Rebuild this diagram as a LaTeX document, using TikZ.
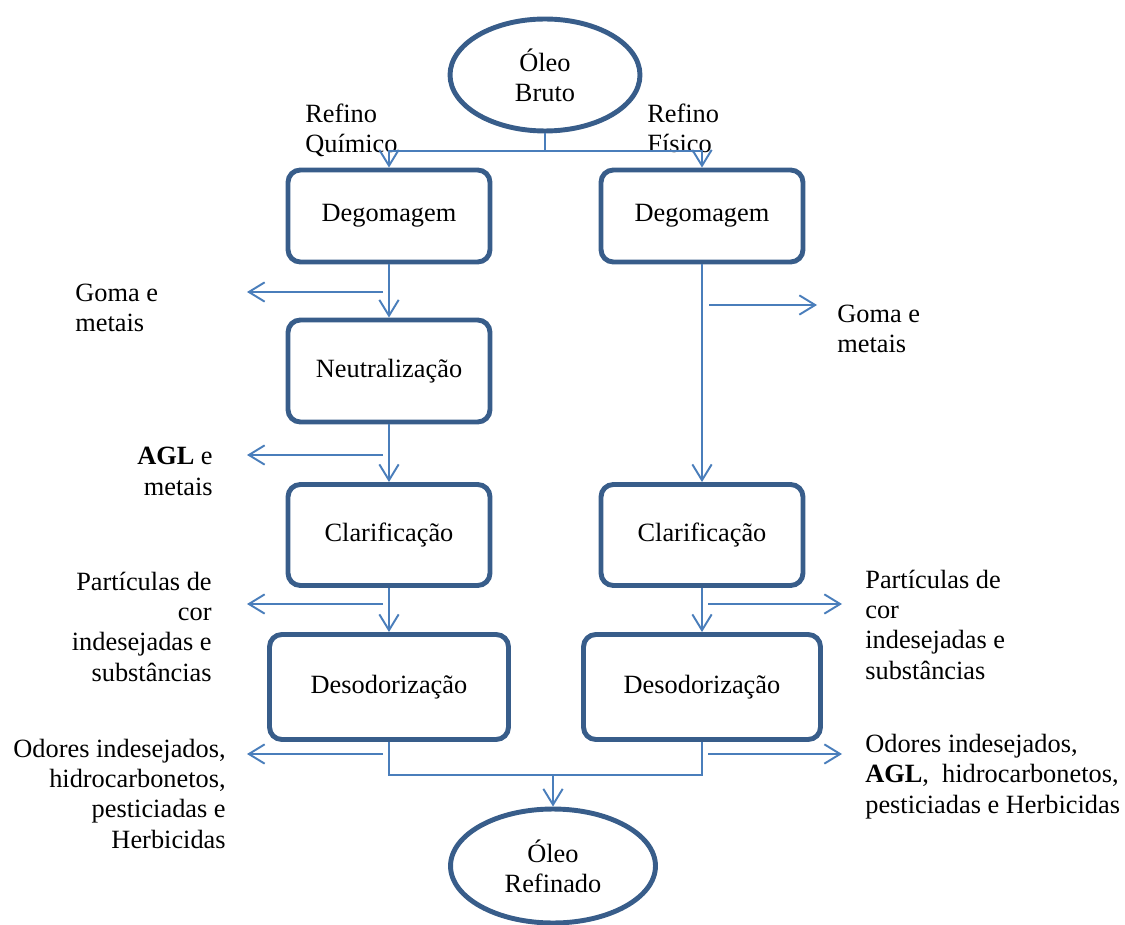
\documentclass[tikz,border=0pt]{standalone}
\usepackage{fontspec}
\setmainfont{Liberation Serif}
\usetikzlibrary{shapes.geometric, arrows.meta, positioning}
\definecolor{boxblue}{RGB}{56,93,138}
\definecolor{lineblue}{RGB}{74,126,187}
\newcommand{\txtsize}{\fontsize{15}{17.2}\selectfont}

\begin{document}
\begin{tikzpicture}[
    x=0.02cm, y=-0.02cm,
    oleo/.style={ellipse, draw=boxblue, line width=2.8pt, align=center, inner sep=0pt, font=\txtsize},
    stage/.style={rectangle, rounded corners=7pt, draw=boxblue, line width=2.8pt, minimum width=4.04cm, minimum height=1.84cm, font=\txtsize},
    note/.style={inner sep=0pt, font=\txtsize},
    link/.style={draw=lineblue, line width=1.1pt},
    arrow/.style={link, -{Straight Barb[length=9pt, width=11pt]}}
]
    \useasboundingbox (0,0) rectangle (1125,925);

    \node[oleo, minimum width=3.8cm, minimum height=2.24cm] (bruto) at (545,75) {Óleo\\Bruto};

    % refino quimico
    \node[stage] (degq) at (389,216) {Degomagem};
    \node[stage, minimum height=2.04cm] (neut) at (389,371) {Neutralização};
    \node[stage, minimum height=2.02cm] (claq) at (389,535) {Clarificação};
    \node[stage, minimum width=4.78cm, minimum height=2.1cm] (desq) at (389,687) {Desodorização};

    % refino fisico
    \node[stage] (degf) at (702,216) {Degomagem};
    \node[stage, minimum height=2.02cm] (claf) at (702,535) {Clarificação};
    \node[stage, minimum width=4.74cm, minimum height=2.1cm] (desf) at (702,687) {Desodorização};

    \node[oleo, minimum width=4.1cm, minimum height=2.28cm] (refinado) at (553,866) {Óleo\\Refinado};

    % labels (base = last line)
    \node[note, anchor=base west, align=left] (refq) at (305,153) {Refino\\Químico};
    \node[note, anchor=base west, align=left] (reff) at (647,153) {Refino\\Físico};
    \node[note, anchor=base west, align=left] (gomaq) at (75,332) {Goma e\\metais};
    \node[note, anchor=base east, align=right] (aglq) at (213,495) {\textbf{AGL} e\\metais};
    \node[note, anchor=base east, align=right] (partq) at (212,681) {Partículas de\\cor\\indesejadas e\\substâncias};
    \node[note, anchor=base east, align=right] (odorq) at (226,848) {Odores indesejados,\\hidrocarbonetos,\\pesticiadas e\\Herbicidas};
    \node[note, anchor=base west, align=left] (gomaf) at (837,353) {Goma e\\metais};
    \node[note, anchor=base west, align=left] (partf) at (865,679) {Partículas de\\cor\\indesejadas e\\substâncias};
    \node[note, anchor=base west, align=left] (odorf) at (865,813) {Odores indesejados,\\\textbf{AGL},~ hidrocarbonetos,\\pesticiadas e Herbicidas};

    % main flow
    \coordinate (split) at (545,151);
    \coordinate (merge) at (553,775);
    \draw[link] (bruto) -- (split);
    \draw[arrow] (split) -| (degq);
    \draw[arrow] (split) -| (degf);
    \draw[arrow] (degq) -- (neut);
    \draw[arrow] (neut) -- (claq);
    \draw[arrow] (claq) -- (desq);
    \draw[arrow] (degf) -- (claf);
    \draw[arrow] (claf) -- (desf);
    \draw[link] (desq) |- (merge);
    \draw[link] (desf) |- (merge);
    \draw[arrow] (merge) -- (refinado);

    % residues
    \coordinate (gomaq-a) at (383,292);  \coordinate (gomaq-b) at (247,292);
    \coordinate (aglq-a) at (383,455);   \coordinate (aglq-b) at (247,455);
    \coordinate (partq-a) at (383,604);  \coordinate (partq-b) at (247,604);
    \coordinate (odorq-a) at (383,754);  \coordinate (odorq-b) at (247,754);
    \coordinate (gomaf-a) at (709,305);  \coordinate (gomaf-b) at (817,305);
    \coordinate (partf-a) at (708,604);  \coordinate (partf-b) at (842,604);
    \coordinate (odorf-a) at (708,754);  \coordinate (odorf-b) at (842,754);
    \draw[arrow] (gomaq-a) -- (gomaq-b);
    \draw[arrow] (aglq-a) -- (aglq-b);
    \draw[arrow] (partq-a) -- (partq-b);
    \draw[arrow] (odorq-a) -- (odorq-b);
    \draw[arrow] (gomaf-a) -- (gomaf-b);
    \draw[arrow] (partf-a) -- (partf-b);
    \draw[arrow] (odorf-a) -- (odorf-b);
\end{tikzpicture}
\end{document}
